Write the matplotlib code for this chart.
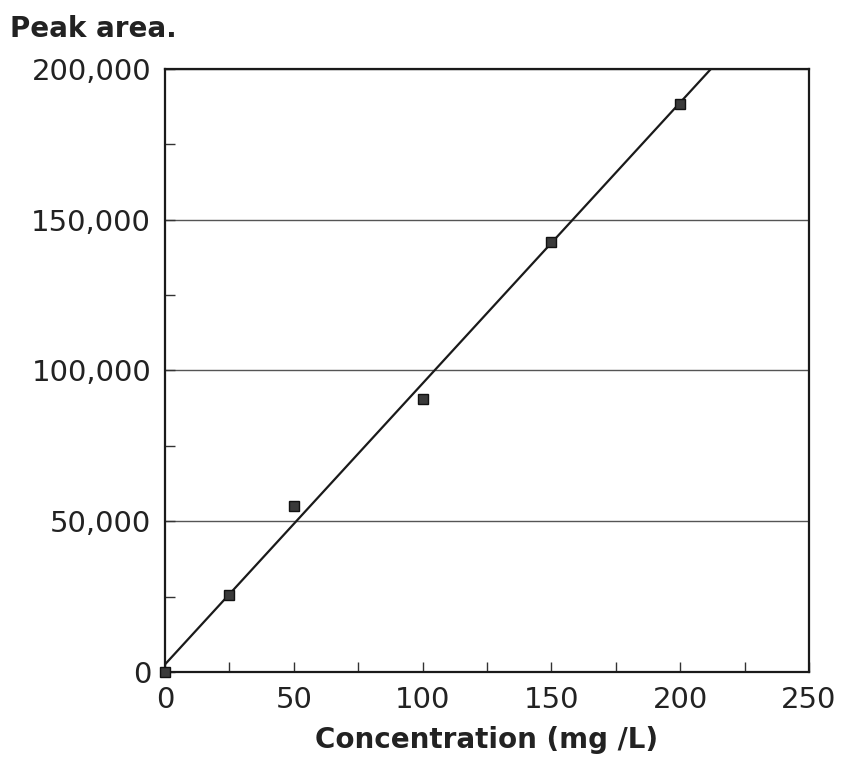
import numpy as np
import matplotlib.pyplot as plt
from matplotlib.ticker import MultipleLocator, FuncFormatter

plt.rcParams["font.family"] = ["DejaVu Sans"]

# calibration points
conc = [0, 25, 50, 100, 150, 200]
area = [0, 25500, 55000, 90500, 142500, 188500]

# fitted line (read from where it crosses the frame)
slope = 932
intercept = 2500

fig = plt.figure(figsize=(8.43, 7.58), dpi=100)
ax = fig.add_axes([0.1957, 0.1135, 0.7640, 0.7955])

xs = np.array([0, 250])
ax.plot(xs, slope * xs + intercept, color="#1a1a1a", lw=1.6, zorder=3)
ax.plot(conc, area, ls="none", marker="s", ms=6.5, mfc="#3a3a3a",
        mec="#111111", mew=1.0, zorder=4, clip_on=False)

ax.set_xlim(0, 250)
ax.set_ylim(0, 200000)
ax.xaxis.set_major_locator(MultipleLocator(50))
ax.xaxis.set_minor_locator(MultipleLocator(25))
ax.yaxis.set_major_locator(MultipleLocator(50000))
ax.yaxis.set_minor_locator(MultipleLocator(25000))
ax.yaxis.set_major_formatter(FuncFormatter(lambda v, p: f"{int(v):,}"))

ax.grid(axis="y", which="major", color="#555555", lw=1.0)
ax.tick_params(which="both", direction="in", labelsize=21, color="#333333",
               labelcolor="#222222", top=False, right=False)
ax.tick_params(which="major", length=7, width=1.0, pad=10)
ax.tick_params(which="minor", length=7, width=1.0)
for s in ax.spines.values():
    s.set_linewidth(1.6)
    s.set_color("#1a1a1a")

fig.text(10 / 843, 1 - 37 / 758, "Peak area.", fontsize=20, fontweight="bold",
         color="#222222", va="baseline", ha="left")
ax.set_xlabel("Concentration (mg /L)", fontsize=20, fontweight="bold",
              color="#222222", labelpad=9)

plt.savefig("out.png", dpi=100)
